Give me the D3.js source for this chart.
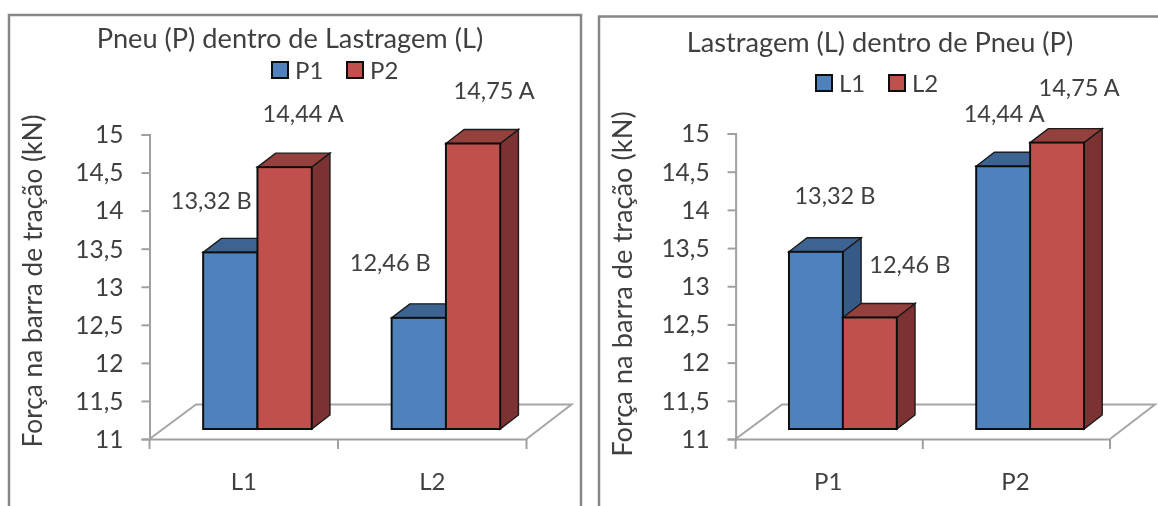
<!DOCTYPE html>
<html>
<head>
<meta charset="utf-8">
<script src="https://cdn.jsdelivr.net/npm/d3@7"></script>
<style>
  html, body { margin: 0; padding: 0; background: #fff; }
  svg { display: block; }
  text { font-family: Lato, "Open Sans", sans-serif; fill: #404040; }
</style>
</head>
<body>
<svg id="chart" width="1158" height="506"></svg>
<script>
let yTicks = [11, 11.5, 12, 12.5, 13, 13.5, 14, 14.5, 15];
let tickNames = ['11', '11,5', '12', '12,5', '13', '13,5', '14', '14,5', '15'];
let tires = ['P1', 'P2'];
let ballast = ['L1', 'L2'];
let p1Values = [13.32, 12.46];   // L1, L2
let p2Values = [14.44, 14.75];
let l1Values = [13.32, 14.44];   // P1, P2
let l2Values = [12.46, 14.75];
let p1Marks = ['13,32 B', '12,46 B'];
let p2Marks = ['14,44 A', '14,75 A'];
let l1Marks = ['13,32 B', '14,44 A'];
let l2Marks = ['12,46 B', '14,75 A'];

let blue = { front: '#4f81bd', top: '#3d6492', side: '#355a87' };
let red = { front: '#c0504d', top: '#943f3c', side: '#7b3230' };

let svg = d3.select('#chart');
let root = svg.append('g').attr('filter', 'url(#soft)');
svg.append('defs').append('filter').attr('id', 'soft')
    .attr('filterUnits', 'userSpaceOnUse')
    .attr('x', 0).attr('y', 0).attr('width', 1158).attr('height', 506)
    .append('feGaussianBlur').attr('stdDeviation', 0.5);

function drawPanel(p) {
  let g = root.append('g');

  // frame runs past the edge of the picture, as cropped in the original
  g.append('rect')
      .attr('x', p.frame[0]).attr('y', p.frame[1])
      .attr('width', p.frame[2]).attr('height', 520)
      .attr('fill', '#fff').attr('stroke', '#868686').attr('stroke-width', 2.5);

  let x = d3.scaleBand().domain(p.categories).range([p.left, p.right]);
  let y = d3.scaleLinear().domain([11, 15]).range([439, p.top]);
  let inner = d3.scaleBand().domain(p.series.map(d => d.name))
      .range([0, x.bandwidth()]).paddingInner(0).paddingOuter(p.outer);

  // floor
  g.append('path')
      .attr('d', d3.line()([
        [p.left, 439], [p.left + 46.5, 404.5],
        [p.right + 45, 404.5], [p.right, 439]
      ]))
      .attr('fill', 'none').attr('stroke', '#a6a6a6').attr('stroke-width', 2);

  // axes
  let yAxis = g.append('g').attr('transform', `translate(${p.left},0)`)
      .call(d3.axisLeft(y).tickValues(yTicks).tickFormat((d, i) => tickNames[i])
        .tickSize(8).tickPadding(p.tickGap));
  yAxis.selectAll('text').attr('font-size', 24.5).attr('dy', '0.34em');

  let xAxis = g.append('g').attr('transform', 'translate(0,439)')
      .call(d3.axisBottom(x).tickSize(0).tickPadding(32));
  xAxis.selectAll('text').attr('font-size', 24).attr('dy', 0)
      .attr('y', 51).attr('dx', p.catShift);

  g.selectAll('.domain, .tick line').attr('stroke', '#a0a0a0').attr('stroke-width', 2);
  g.append('g').selectAll('line')
      .data(d3.range(p.categories.length + 1))
      .enter().append('line')
      .attr('x1', d => p.left + d * x.step()).attr('x2', d => p.left + d * x.step())
      .attr('y1', 439).attr('y2', 449)
      .attr('stroke', '#a0a0a0').attr('stroke-width', 2);

  // bars, back series first so the next one overlaps its side
  let depthX = 18.2, depthY = 14, planeX = 13.7, planeY = 10;
  let w = inner.bandwidth();

  p.series.forEach(function (s) {
    let bars = g.append('g').selectAll('g')
        .data(p.categories.map((c, i) => ({ cat: c, value: s.values[i] })))
        .enter().append('g')
        .attr('transform', d => `translate(${x(d.cat) + inner(s.name) + planeX},0)`);

    let base = y(11) - planeY;
    let face = (d, pts) => d3.line()(pts(y(d.value) - planeY));

    bars.append('path')
        .attr('d', d => face(d, t => [[w, t], [w + depthX, t - depthY], [w + depthX, base - depthY], [w, base]]) + 'Z')
        .attr('fill', s.color.side).attr('stroke', '#1a1a1a').attr('stroke-width', 1.4);
    bars.append('path')
        .attr('d', d => face(d, t => [[0, t], [depthX, t - depthY], [w + depthX, t - depthY], [w, t]]) + 'Z')
        .attr('fill', s.color.top).attr('stroke', '#1a1a1a').attr('stroke-width', 1.4);
    bars.append('rect')
        .attr('x', 0).attr('width', w)
        .attr('y', d => y(d.value) - planeY)
        .attr('height', d => base - y(d.value) + planeY)
        .attr('fill', s.color.front)
        .attr('stroke', '#111').attr('stroke-width', 2);
  });

  // value labels sit apart from their bars, so they are drawn on top of all of them
  p.series.forEach(function (s) {
    p.categories.forEach(function (c, i) {
      g.append('text')
          .attr('x', x(c) + inner(s.name) + planeX + w / 2 + s.offsets[i][0])
          .attr('y', y(s.values[i]) - planeY + s.offsets[i][1])
          .attr('text-anchor', 'middle').attr('font-size', 23.5)
          .text(s.marks[i]);
    });
  });

  // title
  g.append('text').attr('x', p.titleX).attr('y', p.titleY)
      .attr('text-anchor', 'middle').attr('font-size', 27.2).text(p.title);

  // y title
  g.append('text')
      .attr('transform', `translate(${p.yTitle[0]},${p.yTitle[1]}) rotate(-90)`)
      .attr('text-anchor', 'middle').attr('font-size', p.yTitleSize)
      .text('Força na barra de tração (kN)');

  // legend
  let legend = g.append('g').selectAll('g').data(p.series).enter().append('g')
      .attr('transform', (d, i) => `translate(${p.legend[i]},${p.legendY})`);
  legend.append('rect')
      .attr('width', 16).attr('height', 16)
      .attr('fill', d => d.color.front)
      .attr('stroke', '#111').attr('stroke-width', 2);
  legend.append('text')
      .attr('x', 23).attr('y', 16.5).attr('font-size', 24)
      .text(d => d.name);
}

drawPanel({
  frame: [9, 15, 572],
  left: 149.5, right: 526.5, top: 134.5,
  outer: 0.736, tickGap: 18, catShift: 0,
  categories: ballast,
  series: [
    { name: tires[0], values: p1Values, marks: p1Marks, color: blue,
      offsets: [[-19, -43], [-28.5, -47]] },
    { name: tires[1], values: p2Values, marks: p2Marks, color: red,
      offsets: [[18.5, -45], [21, -45]] }
  ],
  title: 'Pneu (P) dentro de Lastragem (L)', titleX: 290, titleY: 48,
  yTitle: [42, 281], yTitleSize: 26.3,
  legend: [272, 347], legendY: 62
});

drawPanel({
  frame: [599, 16.5, 600],
  left: 735.6, right: 1110, top: 133.5,
  outer: 0.736, tickGap: 18, catShift: -1,
  categories: tires,
  series: [
    { name: ballast[0], values: l1Values, marks: l1Marks, color: blue,
      offsets: [[19, -48], [1, -44.5]] },
    { name: ballast[1], values: l2Values, marks: l2Marks, color: red,
      offsets: [[40, -44.5], [22, -47]] }
  ],
  title: 'Lastragem (L) dentro de Pneu (P)', titleX: 880, titleY: 52,
  yTitle: [632, 284], yTitleSize: 27.3,
  legend: [816, 889], legendY: 75
});
</script>
</body>
</html>
